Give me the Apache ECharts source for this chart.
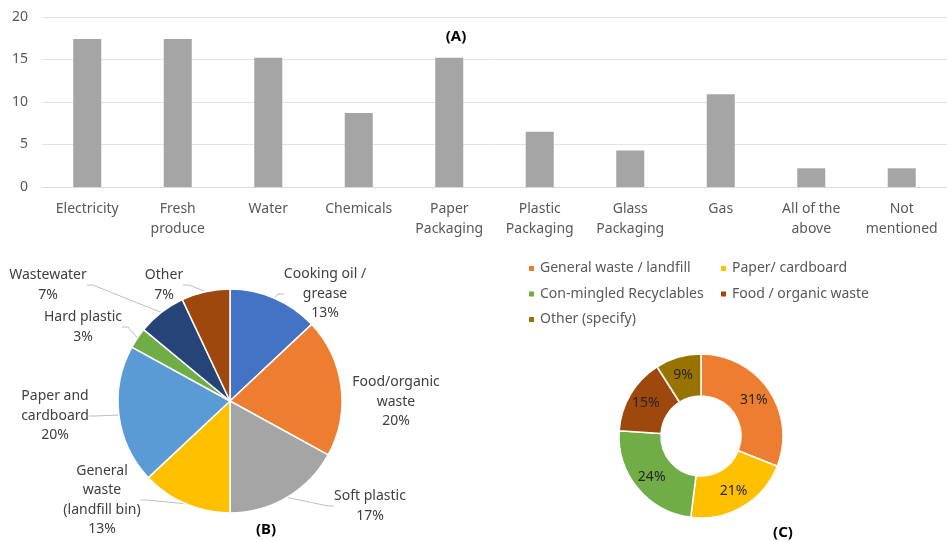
<!DOCTYPE html>
<html>
<head>
<meta charset="utf-8">
<script src="https://cdn.jsdelivr.net/npm/echarts@6/dist/echarts.min.js"></script>
<style>
  html, body { margin: 0; padding: 0; background: #ffffff; }
  #chart { width: 947px; height: 542px; }
</style>
</head>
<body>
<div id="chart"></div>
<script>
// (A) resources mentioned, percent of responses
const resourceCategories = ['Electricity', 'Fresh\nproduce', 'Water', 'Chemicals', 'Paper\nPackaging',
  'Plastic\nPackaging', 'Glass\nPackaging', 'Gas', 'All of the\nabove', 'Not\nmentioned'];
const resourceValues = [17.4, 17.4, 15.2, 8.7, 15.2, 6.5, 4.3, 10.9, 2.2, 2.2];
const resourceAxisMax = 20;
const resourceAxisStep = 5;

// (B) waste streams, percent
const streamNames = ['Cooking oil /\ngrease', 'Food/organic\nwaste', 'Soft plastic', 'General\nwaste\n(landfill bin)',
  'Paper and\ncardboard', 'Hard plastic', 'Wastewater', 'Other'];
const streamShares = [13, 20, 17, 13, 20, 3, 7, 7];

// (C) bins used, percent
const binNames = ['General waste / landfill', 'Paper/ cardboard', 'Con-mingled Recyclables',
  'Food / organic waste', 'Other (specify)'];
const binShares = [31, 21, 24, 15, 9];

const FONT = 'Noto Sans';
const TEXT = '#595959';

const streamColors = ['#4472C4', '#ED7D31', '#A5A5A5', '#FFC000', '#5B9BD5', '#70AD47', '#264478', '#9E480E'];
const binColors = ['#ED7D31', '#FFC000', '#70AD47', '#9E480E', '#997300'];

// pie (B) geometry and where each callout sits, relative to the pie centre
const pieCenter = [230, 401];
const pieRadius = 112;
const streamLabelOffsets = [[95, -107], [166, 1], [140, 105], [-128, 99], [-175, 15], [-147, -74], [-182, -116], [-66, -116]];

const chart = echarts.init(document.getElementById('chart'), null, { renderer: 'canvas' });

const panelTitle = (text, x, y) => ({
  text, left: x, top: y, textAlign: 'center', textVerticalAlign: 'middle', padding: 0,
  textStyle: { fontFamily: FONT, fontSize: 15, fontWeight: 'bold', color: '#000' }
});

const option = {
  backgroundColor: '#ffffff',
  animation: false,
  textStyle: { fontFamily: FONT },
  title: [panelTitle('(A)', 456, 37), panelTitle('(B)', 266, 530), panelTitle('(C)', 783, 533)],
  legend: [
    {
      orient: 'vertical', left: 527, top: 260, padding: 0, itemWidth: 7, itemHeight: 7, itemGap: 8.5, icon: 'rect',
      data: [binNames[0], binNames[2], binNames[4]],
      textStyle: { fontFamily: FONT, fontSize: 14, color: TEXT, lineHeight: 17 }
    },
    {
      orient: 'vertical', left: 719, top: 260, padding: 0, itemWidth: 7, itemHeight: 7, itemGap: 8.5, icon: 'rect',
      data: [binNames[1], binNames[3]],
      textStyle: { fontFamily: FONT, fontSize: 14, color: TEXT, lineHeight: 17 }
    }
  ],
  grid: { left: 42, width: 913, top: 17, height: 170, containLabel: false },
  xAxis: {
    type: 'category',
    data: resourceCategories,
    axisLine: { lineStyle: { color: '#D9D9D9' } },
    axisTick: { show: false },
    axisLabel: { interval: 0, margin: 12, fontFamily: FONT, fontSize: 14, color: TEXT, lineHeight: 20 }
  },
  yAxis: {
    type: 'value', min: 0, max: resourceAxisMax, interval: resourceAxisStep,
    axisLine: { show: false }, axisTick: { show: false },
    splitLine: { lineStyle: { color: '#E3E3E3' } },
    axisLabel: { margin: 14, fontFamily: FONT, fontSize: 14, color: TEXT }
  },
  series: [
    {
      type: 'bar', data: resourceValues, barWidth: 28,
      itemStyle: { color: '#A5A5A5' }
    },
    {
      type: 'pie', center: pieCenter, radius: [0, pieRadius], startAngle: 90, clockwise: true,
      data: streamNames.map((n, i) => ({
        name: n, value: streamShares[i], itemStyle: { color: streamColors[i] },
        labelLine: { show: i !== 1 }
      })),
      itemStyle: { borderColor: '#ffffff', borderWidth: 1.5 },
      label: { formatter: '{b}\n{c}%', fontFamily: FONT, fontSize: 14, color: '#404040', lineHeight: 19.5, align: 'center' },
      labelLine: { length: 10, length2: 6, lineStyle: { color: '#BFBFBF', width: 1 } },
      labelLayout: (p) => ({
        x: pieCenter[0] + streamLabelOffsets[p.dataIndex][0],
        y: pieCenter[1] + streamLabelOffsets[p.dataIndex][1],
        align: 'center', verticalAlign: 'middle'
      }),
      emphasis: { disabled: true }
    },
    {
      type: 'pie', center: [701, 436], radius: [40, 82], startAngle: 90, clockwise: true,
      data: binNames.map((n, i) => ({ name: n, value: binShares[i], itemStyle: { color: binColors[i] } })),
      itemStyle: { borderColor: '#ffffff', borderWidth: 1.5 },
      label: { position: 'inside', formatter: '{c}%', fontFamily: FONT, fontSize: 14, color: '#262626' },
      labelLine: { show: false },
      emphasis: { disabled: true }
    }
  ]
};

chart.setOption(option);
</script>
</body>
</html>
